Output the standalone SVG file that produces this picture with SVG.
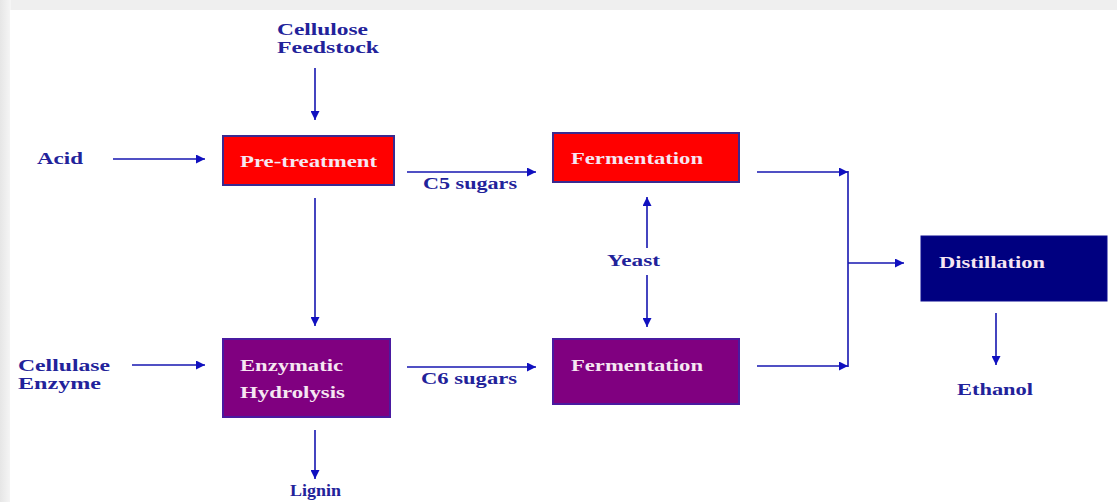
<svg xmlns="http://www.w3.org/2000/svg" width="1117" height="502" viewBox="0 0 1117 502">
<defs>
<marker id="ah" viewBox="0 0 10 10" refX="10" refY="5" markerWidth="11" markerHeight="9" markerUnits="userSpaceOnUse" orient="auto">
<path d="M0,0 L10,5 L0,10 z" fill="#1010c0"/>
</marker>
<linearGradient id="lg" x1="0" y1="0" x2="1" y2="0">
<stop offset="0" stop-color="#e6e6e6"/><stop offset="1" stop-color="#f6f6f6"/>
</linearGradient>
</defs>
<style>
.lbl{font-family:"Liberation Serif","Times New Roman",serif;font-weight:bold;font-size:17px;fill:#22229a}
.btx{font-family:"Liberation Serif","Times New Roman",serif;font-weight:bold;font-size:16px;fill:#f6e6f2}
.ln{stroke:#1616b0;stroke-width:1.6;fill:none}
.arr{stroke:#1616b0;stroke-width:1.6;fill:none;marker-end:url(#ah)}
.red{fill:#ff0000;stroke:#3a2a90;stroke-width:2}
.pur{fill:#800080;stroke:#4a1aa0;stroke-width:2}
.nav{fill:#000080;stroke:#0a0a90;stroke-width:1}
</style>
<rect x="0" y="0" width="1117" height="502" fill="#efefef"/>
<rect x="0" y="0" width="11" height="502" fill="url(#lg)"/>
<rect x="10" y="10" width="1107" height="492" fill="#ffffff"/>

<g id="connectors">
<line class="arr" x1="315" y1="68" x2="315" y2="120"/>
<line class="arr" x1="113" y1="159" x2="205" y2="159"/>
<line class="arr" x1="315" y1="198" x2="315" y2="326"/>
<line class="arr" x1="407" y1="172" x2="536" y2="172"/>
<line class="arr" x1="132" y1="365" x2="205" y2="365"/>
<line class="arr" x1="407" y1="367" x2="536" y2="367"/>
<line class="arr" x1="315" y1="430" x2="315" y2="479"/>
<line class="arr" x1="647" y1="248" x2="647" y2="197"/>
<line class="arr" x1="647" y1="275" x2="647" y2="327"/>
<line class="arr" x1="757" y1="172" x2="848" y2="172"/>
<line class="arr" x1="757" y1="366" x2="848" y2="366"/>
<line class="ln" x1="848" y1="171" x2="848" y2="367"/>
<line class="arr" x1="848" y1="263" x2="904" y2="263"/>
<line class="arr" x1="996" y1="313" x2="996" y2="365"/>
</g>

<g id="cellulose-feedstock"><text class="lbl" x="277" y="35" textLength="91" lengthAdjust="spacingAndGlyphs">Cellulose</text><text class="lbl" x="277" y="53" textLength="102" lengthAdjust="spacingAndGlyphs">Feedstock</text></g>
<g id="acid"><text class="lbl" x="37" y="164" textLength="46" lengthAdjust="spacingAndGlyphs">Acid</text></g>
<g id="pretreatment"><rect class="red" x="223" y="136" width="171" height="49"/><text class="btx" x="240" y="167" textLength="137" lengthAdjust="spacingAndGlyphs">Pre-treatment</text></g>
<g id="c5-label"><text class="lbl" x="423" y="189" textLength="94" lengthAdjust="spacingAndGlyphs">C5 sugars</text></g>
<g id="fermentation-top"><rect class="red" x="553" y="133" width="186" height="49"/><text class="btx" x="571" y="164" textLength="132" lengthAdjust="spacingAndGlyphs">Fermentation</text></g>
<g id="yeast"><text class="lbl" x="607" y="266" textLength="53" lengthAdjust="spacingAndGlyphs">Yeast</text></g>
<g id="distillation"><rect class="nav" x="921" y="236" width="186" height="65"/><text class="btx" x="939" y="268" textLength="106" lengthAdjust="spacingAndGlyphs">Distillation</text></g>
<g id="ethanol"><text class="lbl" x="957" y="395" textLength="76" lengthAdjust="spacingAndGlyphs">Ethanol</text></g>
<g id="cellulase-enzyme"><text class="lbl" x="18" y="371" textLength="92" lengthAdjust="spacingAndGlyphs">Cellulase</text><text class="lbl" x="18" y="389" textLength="83" lengthAdjust="spacingAndGlyphs">Enzyme</text></g>
<g id="enzymatic-hydrolysis"><rect class="pur" x="223" y="339" width="167" height="78"/><text class="btx" x="240" y="371" textLength="103" lengthAdjust="spacingAndGlyphs">Enzymatic</text><text class="btx" x="240" y="398" textLength="105" lengthAdjust="spacingAndGlyphs">Hydrolysis</text></g>
<g id="c6-label"><text class="lbl" x="421" y="384" textLength="96" lengthAdjust="spacingAndGlyphs">C6 sugars</text></g>
<g id="fermentation-bottom"><rect class="pur" x="553" y="339" width="186" height="65"/><text class="btx" x="571" y="371" textLength="132" lengthAdjust="spacingAndGlyphs">Fermentation</text></g>
<g id="lignin"><text class="lbl" x="290" y="496" textLength="51" lengthAdjust="spacingAndGlyphs">Lignin</text></g>
</svg>
